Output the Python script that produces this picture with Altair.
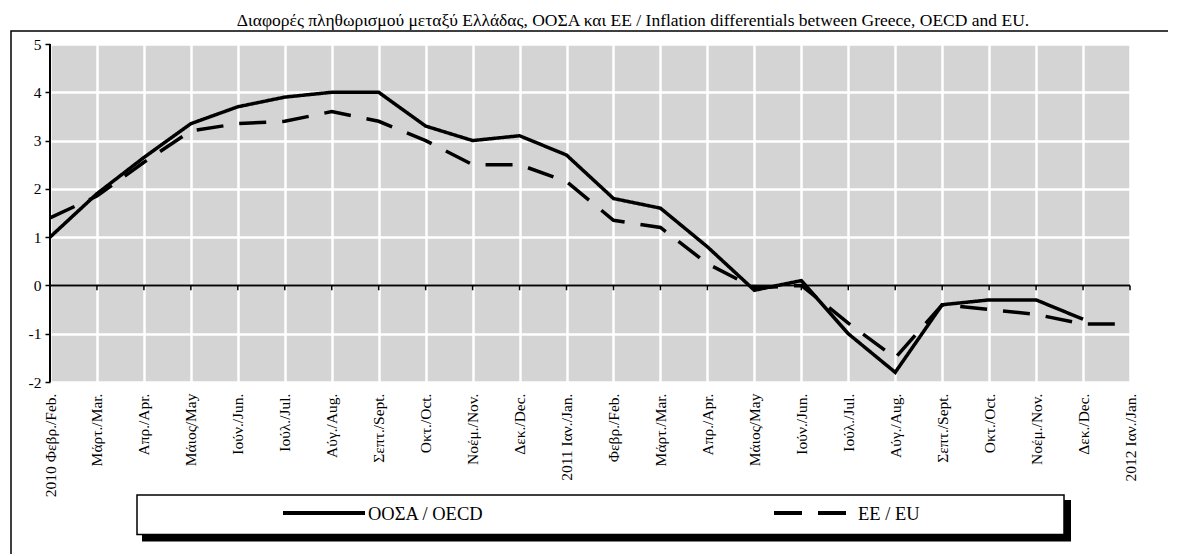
import json
import altair as alt
import pandas as pd

# ---------------- data ----------------
months = [
    "2010 Φεβρ./Feb.", "Μάρτ./Mar.", "Απρ./Apr.", "Μάιος/May", "Ιούν./Jun.",
    "Ιούλ./Jul.", "Αύγ./Aug.", "Σεπτ./Sept.", "Οκτ./Oct.", "Νοέμ./Nov.",
    "Δεκ./Dec.", "2011 Ιαν./Jan.", "Φεβρ./Feb.", "Μάρτ./Mar.", "Απρ./Apr.",
    "Μάιος/May", "Ιούν./Jun.", "Ιούλ./Jul.", "Αύγ./Aug.", "Σεπτ./Sept.",
    "Οκτ./Oct.", "Νοέμ./Nov.", "Δεκ./Dec.", "2012 Ιαν./Jan.",
]
oecd = [1.0, 1.9, 2.65, 3.35, 3.7, 3.9, 4.0, 4.0, 3.3, 3.0, 3.1, 2.7,
        1.8, 1.6, 0.8, -0.1, 0.1, -1.0, -1.8, -0.4, -0.3, -0.3, -0.7, None]
eu = [1.4, 1.85, 2.55, 3.2, 3.35, 3.4, 3.6, 3.4, 3.0, 2.5, 2.5, 2.15,
      1.35, 1.2, 0.45, -0.05, 0.0, -0.78, -1.5, -0.4, -0.5, -0.6, -0.8, -0.8]
series_names = ["ΟΟΣΑ / OECD", "ΕΕ / EU"]
title_text = ("Διαφορές πληθωρισμού μεταξύ Ελλάδας, ΟΟΣΑ και ΕΕ / "
              "Inflation differentials between Greece, OECD and EU.")
y_ticks = [-2, -1, 0, 1, 2, 3, 4, 5]

idx = list(range(len(months)))
df = pd.DataFrame({
    "i": idx + idx,
    "series": [series_names[0]] * len(idx) + [series_names[1]] * len(idx),
    "value": oecd + eu,
})
ticks_df = pd.DataFrame({"i": idx})
one = pd.DataFrame({"a": [0]})

# ---------------- style ----------------
W, H = 1080, 338
FONT = "Liberation Serif"
LW = 3.5

x_scale = alt.Scale(domain=[0, len(months) - 1], nice=False, zero=False)
y_scale = alt.Scale(domain=[min(y_ticks), max(y_ticks)], nice=False, zero=False)
label_expr = json.dumps(months, ensure_ascii=False) + "[datum.value]"

x_axis = alt.Axis(values=idx, labelExpr=label_expr, labelAngle=270, labelFont=FONT,
                  labelFontSize=15.5, labelColor="black", labelPadding=11,
                  ticks=False, domain=False, grid=True, gridColor="white",
                  gridWidth=2.5, gridOpacity=1, title=None, labelOverlap=False,
                  labelBound=False, labelFlush=False)
y_axis = alt.Axis(values=y_ticks, labelExpr="'' + datum.value", labelFont=FONT,
                  labelFontSize=15.5, labelColor="black", tickColor="black",
                  tickWidth=1.5, tickSize=5, labelPadding=4, domain=False,
                  grid=True, gridColor="white", gridWidth=2.5, gridOpacity=1,
                  title=None, labelFlush=False)

lines = alt.Chart(df).mark_line(strokeWidth=LW, color="black", strokeCap="butt",
                                strokeJoin="miter").encode(
    x=alt.X("i:Q", scale=x_scale, axis=x_axis),
    y=alt.Y("value:Q", scale=y_scale, axis=y_axis),
    strokeDash=alt.StrokeDash("series:N",
                              scale=alt.Scale(domain=series_names, range=[[1, 0], [27, 16]]),
                              legend=None),
    detail="series:N",
)

zero_line = alt.Chart(one).mark_rule(color="black", strokeWidth=2).encode(
    x=alt.datum(0, scale=x_scale), x2=alt.datum(len(months) - 1),
    y=alt.datum(0, scale=y_scale),
)
zero_ticks = alt.Chart(ticks_df).mark_rule(color="black", strokeWidth=1.5).encode(
    x=alt.X("i:Q", scale=x_scale),
    y=alt.datum(0, scale=y_scale), y2=alt.datum(-0.1),
)
y_line = alt.Chart(one).mark_rule(color="black", strokeWidth=2).encode(
    x=alt.datum(0, scale=x_scale),
    y=alt.datum(min(y_ticks), scale=y_scale), y2=alt.datum(max(y_ticks)),
)

# outer frame
frame = alt.Chart(one).mark_rect(fillOpacity=0, stroke="black", strokeWidth=1.5).encode(
    x=alt.value(-39), x2=alt.value(1200), y=alt.value(-13), y2=alt.value(600)
)
# title
title = alt.Chart(one).mark_text(font=FONT, fontSize=17.5, align="center",
                                 baseline="alphabetic", color="black").encode(
    x=alt.value(583), y=alt.value(-18.5), text=alt.value(title_text)
)
# legend box with shadow
shadow = alt.Chart(one).mark_rect(fill="black").encode(
    x=alt.value(92), x2=alt.value(1021), y=alt.value(456), y2=alt.value(497.5)
)
box = alt.Chart(one).mark_rect(fill="white", stroke="black", strokeWidth=1.5).encode(
    x=alt.value(87), x2=alt.value(1014), y=alt.value(451), y2=alt.value(490.5)
)
leg1 = alt.Chart(one).mark_rule(color="black", strokeWidth=4).encode(
    x=alt.value(233), x2=alt.value(315), y=alt.value(469)
)
leg2 = alt.Chart(one).mark_rule(color="black", strokeWidth=4, strokeDash=[28, 16]).encode(
    x=alt.value(724), x2=alt.value(797), y=alt.value(469)
)
leg1t = alt.Chart(one).mark_text(font=FONT, fontSize=18.5, align="left",
                                 baseline="middle", color="black").encode(
    x=alt.value(318), y=alt.value(470), text=alt.value(series_names[0])
)
leg2t = alt.Chart(one).mark_text(font=FONT, fontSize=18.5, align="left",
                                 baseline="middle", color="black").encode(
    x=alt.value(808), y=alt.value(470), text=alt.value(series_names[1])
)

chart = alt.layer(
    lines, zero_line, zero_ticks, y_line, frame, title, shadow, box,
    leg1, leg2, leg1t, leg2t,
).properties(
    width=W, height=H,
    autosize=alt.AutoSizeParams(type="none"),
    padding={"left": 42, "top": 36, "right": 38, "bottom": 172},
).configure(
    font=FONT,
    view=alt.ViewConfig(fill="#d4d4d4", strokeOpacity=0),
)

chart.save("out.html", embed_options={"renderer": "svg", "actions": False})
